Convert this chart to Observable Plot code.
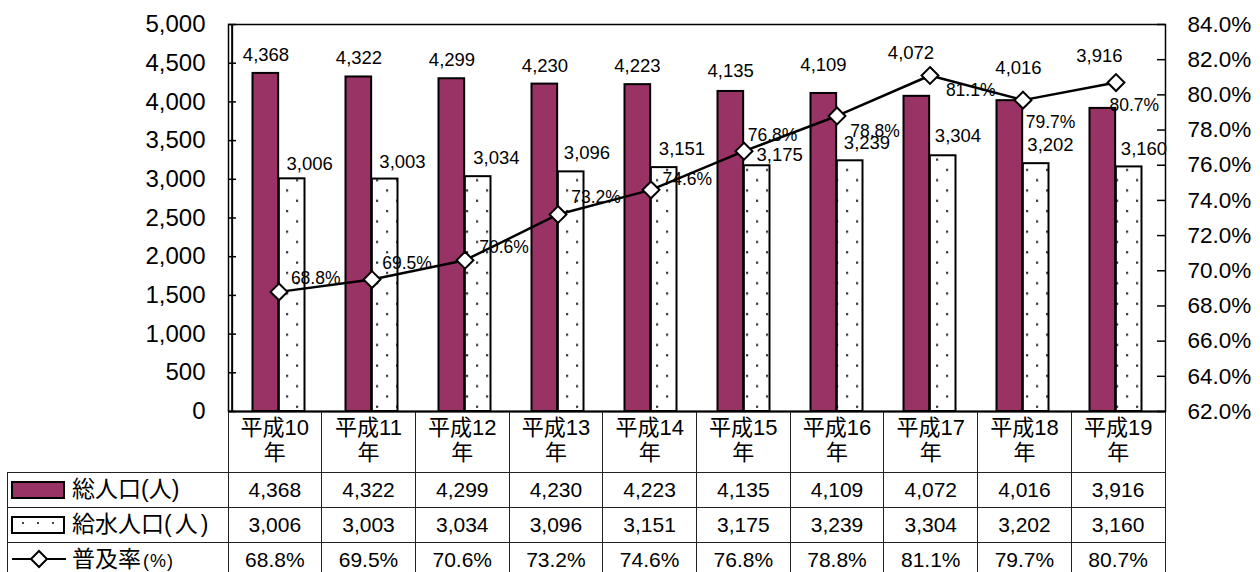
<!DOCTYPE html>
<html><head><meta charset="utf-8">
<script src="https://cdn.jsdelivr.net/npm/d3@7"></script>
<script src="https://cdn.jsdelivr.net/npm/@observablehq/plot@0.6"></script>
<style>
body{margin:0;background:#fff;}
#wrap{position:relative;width:1260px;height:572px;overflow:hidden;font-family:"Liberation Sans",Arial,"Noto Sans CJK JP",sans-serif;color:#000;background:#fff;}
#chart{position:absolute;left:0;top:0;}
#table{position:absolute;left:0;top:0;width:1260px;height:572px;}
.ln{position:absolute;background:#222;}
.cell{position:absolute;text-align:center;white-space:nowrap;}
</style></head><body><div id="wrap"><div id="chart"></div><div id="table"></div></div>
<script>
// ---- data ----
const categories = ["平成10年","平成11年","平成12年","平成13年","平成14年","平成15年","平成16年","平成17年","平成18年","平成19年"];
const totalPop = [4368,4322,4299,4230,4223,4135,4109,4072,4016,3916];
const servedPop = [3006,3003,3034,3096,3151,3175,3239,3304,3202,3160];
const coverage = [68.8,69.5,70.6,73.2,74.6,76.8,78.8,81.1,79.7,80.7];
const popTicks = [0,500,1000,1500,2000,2500,3000,3500,4000,4500,5000];
const rateTicks = [62,64,66,68,70,72,74,76,78,80,82,84];
const seriesNames = ["総人口","給水人口","普及率"];
const seriesUnits = ["(人)","(人)","(%)"];

// ---- label nudges (pixels) ----
const totalLabelDx = [-13,-13,-13,-13,-13.6,-13.3,-13.5,-19,-4.5,-16.6];
const totalLabelDy = [-12,-12.7,-13,-12.5,-13,-14,-22,-37,-27,-46];
const servedLabelDx = [30.6,30.5,31.4,29,31,35.6,30,28,27.5,28];
const servedLabelDy = [-9,-11,-13,-13,-13,-4.5,-12,-13.6,-13,-11.5];
const rateLabelDx = [36.7,35,39,38,36.3,28.6,38,40.7,27.5,18.3];
const rateLabelDy = [-8,-11,-7,-11,-4.4,-10.6,21.5,20,27.4,28];

const rows = categories.map((c,i)=>({cat:c,total:totalPop[i],served:servedPop[i],rate:coverage[i]}));
const rMin = rateTicks[0], rMax = rateTicks[rateTicks.length-1];
const yMax = popTicks[popTicks.length-1];
const toY = r => (r - rMin) / (rMax - rMin) * yMax;
const fromY = v => rMin + v / yMax * (rMax - rMin);
const fmt = d3.format(",");

const W = 1260, H = 413, ML = 228, MR = 95, MT = 24, MB = 2;
const innerW = W - ML - MR;
const bw = innerW / categories.length;
const PURPLE = "#993366";
const FONT = "'Liberation Sans', Arial, sans-serif";

const labelMarks = [];
rows.forEach((d,i)=>{
  labelMarks.push(Plot.text([d], {x:"cat", y:"total", text: r=>fmt(r.total), dx: totalLabelDx[i], dy: totalLabelDy[i], lineAnchor:"bottom", textAnchor:"middle", fontSize:18.5, fill:"black"}));
  labelMarks.push(Plot.text([d], {x:"cat", y:"served", text: r=>fmt(r.served), dx: servedLabelDx[i], dy: servedLabelDy[i], lineAnchor:"bottom", textAnchor:"middle", fontSize:18.5, fill:"black"}));
  labelMarks.push(Plot.text([d], {x:"cat", y: r=>toY(r.rate), text: r=>r.rate.toFixed(1)+"%", dx: rateLabelDx[i], dy: rateLabelDy[i], lineAnchor:"bottom", textAnchor:"middle", fontSize:17.5, fill:"black"}));
});

const chart = Plot.plot({
  width: W, height: H,
  marginLeft: ML, marginRight: MR, marginTop: MT, marginBottom: MB,
  style: {fontFamily: FONT, background: "transparent", color: "black", overflow: "visible"},
  x: {type: "band", domain: categories, padding: 0, axis: null},
  y: {domain: [0, yMax]},
  marks: [
    Plot.barY(rows, {x:"cat", y:"total", fill: PURPLE, stroke:"black", strokeWidth:2, insetLeft:20.5, insetRight: bw/2}),
    Plot.barY(rows, {x:"cat", y:"served", fill: "url(#dotpat)", stroke:"black", strokeWidth:2, insetLeft: bw/2, insetRight:20.5}),
    Plot.frame({stroke:"black", strokeWidth:1.5}),
    Plot.ruleX([categories[0]], {dx: -bw/2, stroke:"black", strokeWidth:2}),
    Plot.ruleY([0], {stroke:"black", strokeWidth:2}),
    Plot.tickY(popTicks, {y: d=>d, stroke:"black", strokeWidth:1.5, insetRight: innerW - 8}),
    Plot.tickY(rateTicks, {y: d=>toY(d), stroke:"black", strokeWidth:1.5, insetLeft: innerW - 8}),
    Plot.axisY({anchor:"left", ticks: popTicks, tickFormat: fmt, tickSize:0, tickPadding:23, fontSize:24, label:null}),
    Plot.axisY({anchor:"right", ticks: rateTicks.map(toY), tickFormat: v => fromY(v).toFixed(1)+"%", tickSize:0, tickPadding:22, fontSize:22.5, label:null}),
    Plot.line(rows, {x:"cat", y: d=>toY(d.rate), stroke:"black", strokeWidth:2.5}),
    Plot.dot(rows, {x:"cat", y: d=>toY(d.rate), symbol:"diamond2", r:7.6, fill:"white", stroke:"black", strokeWidth:2}),
    ...labelMarks
  ]
});

// dotted pattern for served-population bars
const svg = d3.select(chart);
const defs = svg.insert("defs", ":first-child");
const pat = defs.append("pattern").attr("id","dotpat").attr("patternUnits","userSpaceOnUse")
  .attr("width",20).attr("height",20.6);
pat.append("rect").attr("width",20).attr("height",20.6).attr("fill","white");
pat.append("rect").attr("x",6).attr("y",4).attr("width",2.2).attr("height",2.2).attr("fill","#333");
pat.append("rect").attr("x",16).attr("y",14.3).attr("width",2.2).attr("height",2.2).attr("fill","#333");
document.getElementById("chart").appendChild(chart);

// ---- data table below the plot ----
const tbl = document.getElementById("table");
function line(x,y,w,h){const e=document.createElement("div");e.className="ln";Object.assign(e.style,{left:x+"px",top:y+"px",width:w+"px",height:h+"px"});tbl.appendChild(e);}
function cell(x,y,w,h,html,extra){const e=document.createElement("div");e.className="cell";Object.assign(e.style,{left:x+"px",top:y+"px",width:w+"px",height:h+"px"},extra||{});e.innerHTML=html;tbl.appendChild(e);return e;}
const colX = i => ML + i*bw;
const headTop = 412, rowTops = [472,507,542], rowH = 35, tableLeft = 7;
for(let i=0;i<=categories.length;i++) line(colX(i)-0.5, headTop, 1, 200);
line(tableLeft-0.5, rowTops[0], 1, 120);
rowTops.forEach(y=>line(tableLeft, y-0.5, colX(categories.length)-tableLeft, 1));

categories.forEach((c,i)=>{
  const a = c.slice(0,-1), b = c.slice(-1);
  cell(colX(i), 415, bw, 56, a+"<br>"+b, {fontSize:"22px", lineHeight:"25px"});
});
const series = [totalPop, servedPop, coverage];
series.forEach((vals,r)=>{
  vals.forEach((v,i)=>{
    const t = r===2 ? v.toFixed(1)+"%" : fmt(v);
    cell(colX(i), rowTops[r], bw, rowH, t, {fontSize:"21px", lineHeight:rowH+"px"});
  });
});

// legend swatches + names
const sw = [
  `<svg width="60" height="35"><rect x="3" y="10" width="52" height="16" fill="${PURPLE}" stroke="black" stroke-width="2"/></svg>`,
  `<svg width="60" height="35"><rect x="3" y="10" width="52" height="16" fill="white" stroke="black" stroke-width="2"/><rect x="13" y="15" width="2" height="2" fill="#444"/><rect x="28" y="15" width="2" height="2" fill="#444"/><rect x="43" y="15" width="2" height="2" fill="#444"/></svg>`,
  `<svg width="60" height="35"><line x1="3" y1="17" x2="57" y2="17" stroke="black" stroke-width="2"/><path d="M30 9 L38 17 L30 25 L22 17 Z" fill="white" stroke="black" stroke-width="2"/></svg>`
];
seriesNames.forEach((n,r)=>{
  cell(9, rowTops[r], 60, rowH, sw[r], {textAlign:"left"});
  let unit;
  if(r===0) unit = `<span style="font-size:23px">${seriesUnits[r]}</span>`;
  else if(r===1) unit = `<span style="font-size:23px;letter-spacing:3px">${seriesUnits[r]}</span>`;
  else unit = `<span style="font-size:18px;letter-spacing:1px;margin-left:2px">${seriesUnits[r]}</span>`;
  cell(72, rowTops[r], 150, rowH, `<span style="font-size:23px">${n}</span>${unit}`, {textAlign:"left", lineHeight:rowH+"px"});
});
</script></body></html>
